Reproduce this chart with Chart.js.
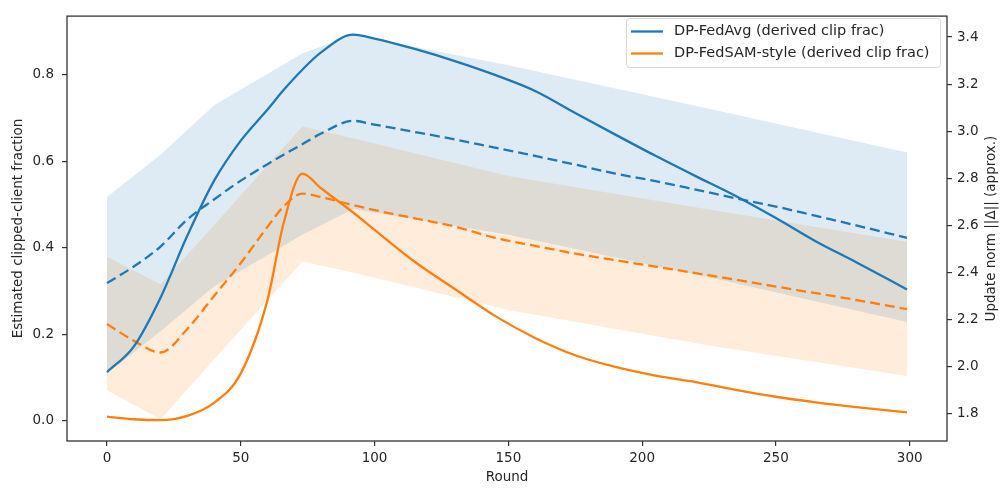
<!DOCTYPE html>
<html>
<head>
<meta charset="utf-8">
<title>Derived clip fraction and update norm</title>
<script src="https://cdn.jsdelivr.net/npm/chart.js@4/dist/chart.umd.min.js"></script>
<style>
    html, body { margin: 0; background: #fff; }
    #wrap { width: 1002px; height: 488px; }
</style>
</head>
<body>
<div id="wrap"><canvas id="clipChart" width="1002" height="488"></canvas></div>
<script>
        // Rounds sampled for the curves
        const lineRounds = [0, 10, 20, 30, 40, 50, 60, 66, 73, 80, 92, 100, 115, 130, 145, 160, 175, 190, 205, 220, 235, 250, 265, 280, 299];

        // Derived clip fraction (left axis)
        const fedAvgClip = [0.113, 0.172, 0.285, 0.428, 0.555, 0.648, 0.720, 0.765, 0.812, 0.852, 0.893, 0.884, 0.860, 0.832, 0.800, 0.763, 0.712, 0.662, 0.613, 0.566, 0.520, 0.469, 0.415, 0.367, 0.304];
        const fedSamClip = [0.010, 0.004, 0.002, 0.012, 0.042, 0.110, 0.280, 0.457, 0.572, 0.538, 0.482, 0.442, 0.368, 0.305, 0.243, 0.192, 0.152, 0.125, 0.105, 0.090, 0.072, 0.056, 0.043, 0.032, 0.020];

        // Update norm (right axis, dashed)
        const fedAvgNorm = [2.355, 2.425, 2.510, 2.625, 2.710, 2.790, 2.860, 2.900, 2.945, 2.990, 3.044, 3.028, 2.997, 2.965, 2.930, 2.895, 2.858, 2.820, 2.788, 2.752, 2.715, 2.680, 2.640, 2.600, 2.547];
        const fedSamNorm = [2.181, 2.110, 2.060, 2.160, 2.300, 2.440, 2.594, 2.680, 2.735, 2.720, 2.686, 2.665, 2.630, 2.595, 2.547, 2.513, 2.480, 2.452, 2.425, 2.397, 2.369, 2.340, 2.312, 2.283, 2.244];

        // Shaded norm bands
        const bandRounds = [0, 20, 40, 73, 92, 150, 225, 299];
        const fedAvgNormHi = [2.72, 2.90, 3.11, 3.33, 3.41, 3.28, 3.095, 2.91];
        const fedAvgNormLo = [1.97, 2.15, 2.34, 2.56, 2.67, 2.56, 2.38, 2.19];
        const fedSamNormHi = [2.467, 2.35, 2.60, 3.02, 2.97, 2.81, 2.667, 2.53];
        const fedSamNormLo = [1.90, 1.776, 2.03, 2.446, 2.40, 2.24, 2.09, 1.96];

        // Tick labels
        const roundTicks = [0, 50, 100, 150, 200, 250, 300];
        const clipTicks = [0.0, 0.2, 0.4, 0.6, 0.8];
        const normTicks = [1.8, 2.0, 2.2, 2.4, 2.6, 2.8, 3.0, 3.2, 3.4];

        const legendLabels = ['DP-FedAvg (derived clip frac)', 'DP-FedSAM-style (derived clip frac)'];
        const rightTitle = 'Update norm ||Δ|| (approx.)';

        const blue = '#1f77b4';
        const orange = '#ff7f0e';
        const textColor = '#262626';
        const tickFont = { family: 'DejaVu Sans', size: 13.5 };
        const titleFont = { family: 'DejaVu Sans', size: 13.5 };

        function pts(xs, ys) {
            return xs.map((x, i) => ({ x: x, y: ys[i] }));
        }

        function lineSet(label, xs, ys, color, axis, dashed) {
            return {
                label: label,
                data: pts(xs, ys),
                yAxisID: axis,
                borderColor: color,
                borderWidth: 2.3,
                borderDash: dashed ? [10, 5] : [],
                cubicInterpolationMode: 'monotone',
                pointRadius: 0,
                fill: false
            };
        }

        function bandSet(xs, ys, color, fill) {
            return {
                data: pts(xs, ys),
                yAxisID: 'y1',
                borderWidth: 0,
                borderColor: 'transparent',
                backgroundColor: color,
                pointRadius: 0,
                tension: 0,
                fill: fill
            };
        }

        // Frame round the plot area (matplotlib style spines)
        const framePlugin = {
            id: 'frame',
            afterDatasetsDraw(chart) {
                const a = chart.chartArea;
                const ctx = chart.ctx;
                ctx.save();
                ctx.strokeStyle = '#333';
                ctx.lineWidth = 1.3;
                ctx.strokeRect(a.left, a.top, a.right - a.left, a.bottom - a.top);
                ctx.restore();
            }
        };

        // Right axis label, reading bottom to top like the left one
        const rightTitlePlugin = {
            id: 'rightTitle',
            afterDraw(chart) {
                const a = chart.chartArea;
                const ctx = chart.ctx;
                ctx.save();
                ctx.translate(991, (a.top + a.bottom) / 2);
                ctx.rotate(-Math.PI / 2);
                ctx.font = '13.5px "DejaVu Sans"';
                ctx.fillStyle = textColor;
                ctx.textAlign = 'center';
                ctx.textBaseline = 'middle';
                ctx.fillText(rightTitle, 0, 0);
                ctx.restore();
            }
        };

        // Legend box in the upper right corner
        const legendPlugin = {
            id: 'boxLegend',
            afterDraw(chart) {
                const ctx = chart.ctx;
                const x = 626, y = 18, w = 314, h = 49;
                ctx.save();
                ctx.fillStyle = 'rgba(255,255,255,0.85)';
                ctx.strokeStyle = '#d6d6d6';
                ctx.lineWidth = 1;
                ctx.beginPath();
                ctx.roundRect(x + 0.5, y + 0.5, w, h, 3);
                ctx.fill();
                ctx.stroke();
                const colors = [blue, orange];
                ctx.font = '14.5px "DejaVu Sans"';
                ctx.textBaseline = 'middle';
                ctx.fillStyle = textColor;
                legendLabels.forEach((label, i) => {
                    const ly = 31.5 + i * 22;
                    ctx.strokeStyle = colors[i];
                    ctx.lineWidth = 2.3;
                    ctx.beginPath();
                    ctx.moveTo(631, ly);
                    ctx.lineTo(663, ly);
                    ctx.stroke();
                    ctx.fillText(label, 674, ly);
                });
                ctx.restore();
            }
        };

        const ctx = document.getElementById('clipChart').getContext('2d');
        const clipChart = new Chart(ctx, {
            type: 'line',
            data: {
                datasets: [
                    lineSet(legendLabels[0], lineRounds, fedAvgClip, blue, 'y', false),
                    lineSet(legendLabels[1], lineRounds, fedSamClip, orange, 'y', false),
                    lineSet('DP-FedAvg norm', lineRounds, fedAvgNorm, blue, 'y1', true),
                    lineSet('DP-FedSAM-style norm', lineRounds, fedSamNorm, orange, 'y1', true),
                    bandSet(bandRounds, fedAvgNormHi, 'rgba(31, 119, 180, 0.15)', '+1'),
                    bandSet(bandRounds, fedAvgNormLo, 'transparent', false),
                    bandSet(bandRounds, fedSamNormHi, 'rgba(255, 127, 14, 0.15)', '+1'),
                    bandSet(bandRounds, fedSamNormLo, 'transparent', false)
                ]
            },
            options: {
                responsive: false,
                animation: false,
                devicePixelRatio: 1,
                layout: {
                    padding: { top: 11, left: 0, right: 0, bottom: 0 }
                },
                plugins: {
                    legend: { display: false },
                    tooltip: { enabled: false },
                    filler: { drawTime: 'beforeDatasetsDraw' }
                },
                scales: {
                    x: {
                        type: 'linear',
                        min: -14.95,
                        max: 313.95,
                        afterBuildTicks: s => { s.ticks = roundTicks.map(v => ({ value: v })); },
                        afterFit: s => { s.height = 47; },
                        ticks: { font: tickFont, color: textColor, padding: 4, maxRotation: 0, callback: v => String(v) },
                        grid: { drawOnChartArea: false, tickLength: 5, color: '#333', lineWidth: 1.2 },
                        border: { display: false },
                        title: { display: true, text: 'Round', font: titleFont, color: textColor, padding: { top: 0, bottom: 2 } }
                    },
                    y: {
                        position: 'left',
                        min: -0.0463,
                        max: 0.936,
                        afterBuildTicks: s => { s.ticks = clipTicks.map(v => ({ value: v })); },
                        afterFit: s => { s.width = 67; },
                        ticks: { font: tickFont, color: textColor, padding: 8, callback: v => v.toFixed(1) },
                        grid: { drawOnChartArea: false, tickLength: 5, color: '#333', lineWidth: 1.2 },
                        border: { display: false },
                        title: { display: true, text: 'Estimated clipped-client fraction', font: titleFont, color: textColor, padding: { top: 10, bottom: 0 } }
                    },
                    y1: {
                        position: 'right',
                        min: 1.684,
                        max: 3.489,
                        afterBuildTicks: s => { s.ticks = normTicks.map(v => ({ value: v })); },
                        afterFit: s => { s.width = 55; },
                        ticks: { font: tickFont, color: textColor, padding: 5, callback: v => v.toFixed(1) },
                        grid: { drawOnChartArea: false, tickLength: 5, color: '#333', lineWidth: 1.2 },
                        border: { display: false },
                        title: { display: false }
                    }
                }
            },
            plugins: [framePlugin, rightTitlePlugin, legendPlugin]
        });
</script>
</body>
</html>
